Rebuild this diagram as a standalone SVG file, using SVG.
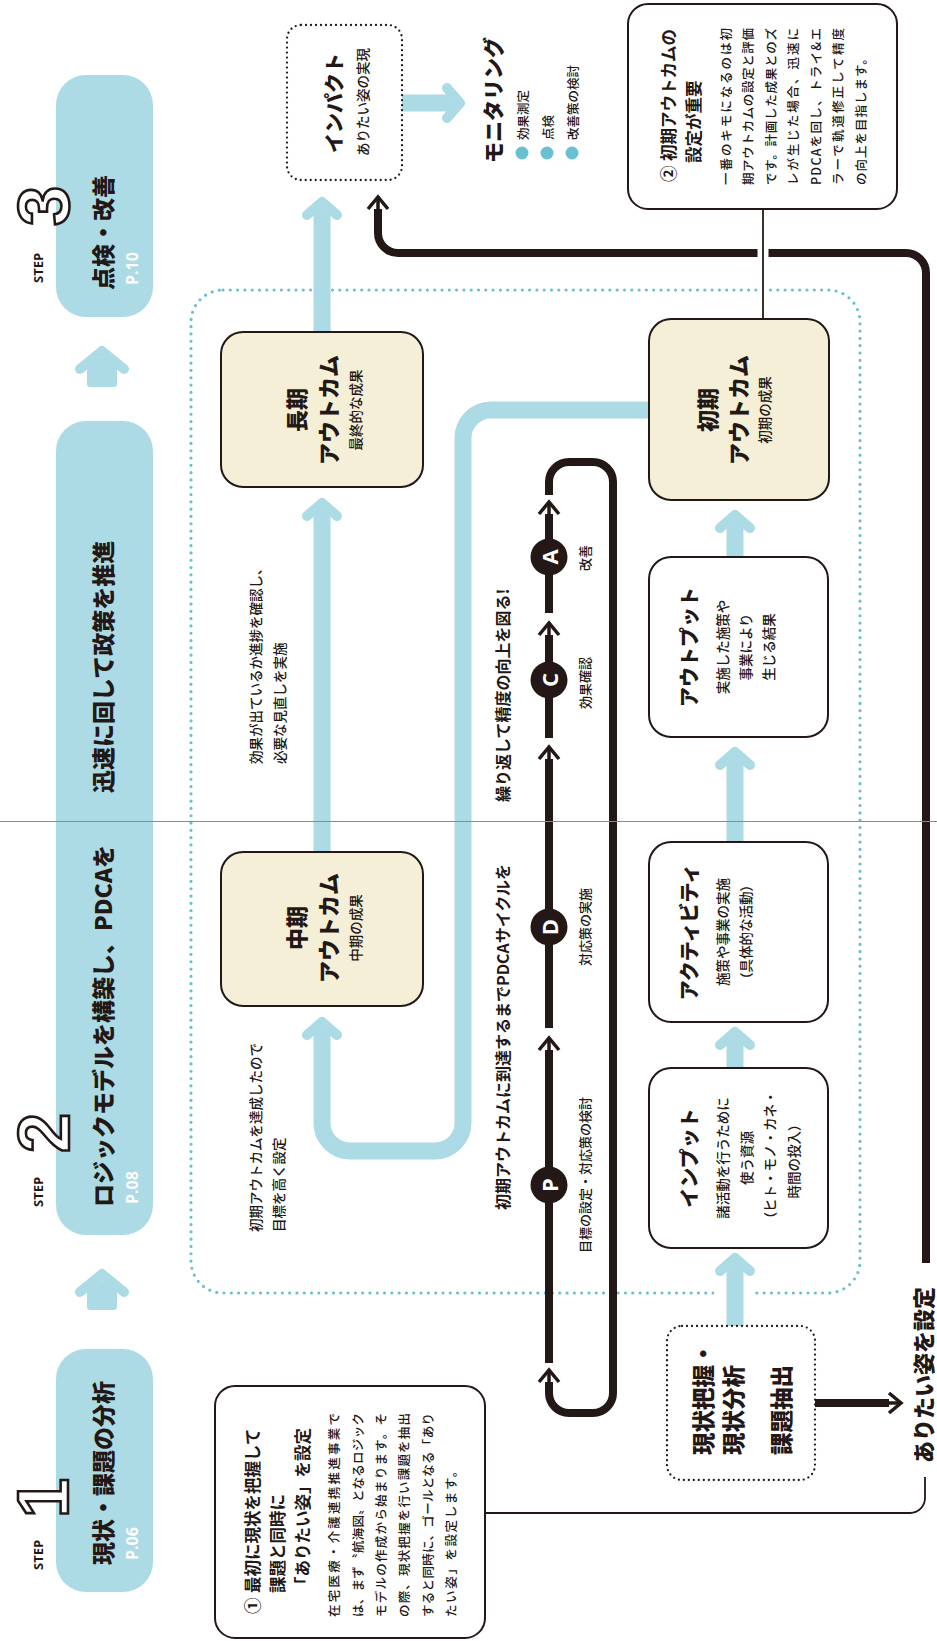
<svg xmlns="http://www.w3.org/2000/svg" width="937" height="1641" viewBox="0 0 937 1641">
<style>
.t{font-family:"Noto Sans CJK JP","Noto Sans",sans-serif;fill:#231815;dominant-baseline:central}
.b{font-weight:700}
.h{font-weight:900}
.r{font-weight:500}
.w{fill:#fff}
.m{text-anchor:middle}
.lat{font-family:"Open Sans","Liberation Sans",sans-serif;font-weight:700}
.dig{font-family:"Liberation Sans",sans-serif;font-weight:700;fill:#fff;stroke:#231815;stroke-width:2.6;text-anchor:middle}
.blue{fill:#acdbe5}
.bstem{stroke:#acdbe5;stroke-width:17;fill:none}
.bhead{stroke:#acdbe5;stroke-width:10;fill:none;stroke-linecap:round;stroke-linejoin:round}
.kline{stroke:#231815;stroke-width:8;fill:none}
.khead{stroke:#231815;stroke-width:3.5;fill:none}
.box{fill:#fff;stroke:#231815;stroke-width:2}
.beige{fill:#f5efd7;stroke:#231815;stroke-width:2}
.dotk{fill:#fff;stroke:#231815;stroke-width:2.3;stroke-dasharray:0 5;stroke-linecap:round}
.thin{stroke:#231815;stroke-width:1.8;fill:none}
</style>

<!-- dotted teal frame -->
<rect id="frame" x="191" y="290" width="669" height="1003" rx="32" fill="none" stroke="#69c0d0" stroke-width="3.2" stroke-dasharray="0 7.3" stroke-linecap="round"/>
<rect x="714" y="1286" width="38" height="14" fill="#fff"/>

<!-- steps -->
<g id="step3">
<rect class="blue" x="56" y="75" width="97" height="242" rx="30"/>
<text class="dig" font-size="72" transform="translate(69 206) rotate(-90)">3</text>
<text class="t lat" font-size="13" transform="translate(38 283) rotate(-90)">STEP</text>
<text class="t h" font-size="23" transform="translate(102 290) rotate(-90)">点検・改善</text>
<text class="t lat w" font-size="16" transform="translate(132 285) rotate(-90)">P.10</text>
</g>
<g id="step2">
<rect class="blue" x="56" y="421" width="97" height="814" rx="30"/>
<text class="dig" font-size="72" transform="translate(69 1133) rotate(-90)">2</text>
<text class="t lat" font-size="13" transform="translate(38 1207) rotate(-90)">STEP</text>
<text class="t h" font-size="23" transform="translate(102 1207) rotate(-90)">ロジックモデルを構築し、PDCAを</text>
<text class="t h" font-size="23" transform="translate(102 793) rotate(-90)">迅速に回して政策を推進</text>
<text class="t lat w" font-size="16" transform="translate(132 1204) rotate(-90)">P.08</text>
</g>
<g id="step1">
<rect class="blue" x="56" y="1349" width="97" height="243" rx="30"/>
<text class="dig" font-size="72" transform="translate(68 1498) rotate(-90)">1</text>
<text class="t lat" font-size="13" transform="translate(38 1570) rotate(-90)">STEP</text>
<text class="t h" font-size="23" transform="translate(102 1565) rotate(-90)">現状・課題の分析</text>
<text class="t lat w" font-size="16" transform="translate(132 1560) rotate(-90)">P.06</text>
</g>
<g id="step-arrows">
<rect class="blue" x="87" y="358" width="30" height="29" rx="3"/>
<polyline class="bhead" points="80,369 102,351 124,369"/>
<rect class="blue" x="87" y="1281" width="30" height="29" rx="3"/>
<polyline class="bhead" points="80,1292 102,1274 124,1292"/>
</g>

<!-- connectors -->
<g id="connectors">
<line class="bstem" x1="322" y1="332" x2="322" y2="209"/>
<polyline class="bhead" points="307,215 322,202 337,215"/>
<line class="bstem" x1="322" y1="852" x2="322" y2="510"/>
<polyline class="bhead" points="307,516 322,503 337,516"/>
<path class="bstem" d="M649 410 H491 A28 28 0 0 0 463 438 V1123 A28 28 0 0 1 435 1151 H350 A28 28 0 0 1 322 1123 V1029"/>
<polyline class="bhead" points="307,1035 322,1022 337,1035"/>
<line class="bstem" x1="735" y1="557" x2="735" y2="522"/>
<polyline class="bhead" points="720,528 735,515 750,528"/>
<line class="bstem" x1="735" y1="842" x2="735" y2="759"/>
<polyline class="bhead" points="720,765 735,752 750,765"/>
<line class="bstem" x1="735" y1="1068" x2="735" y2="1039"/>
<polyline class="bhead" points="720,1045 735,1032 750,1045"/>
<line class="bstem" x1="735" y1="1326" x2="735" y2="1265"/>
<polyline class="bhead" points="720,1271 735,1258 750,1271"/>
<line class="bstem" x1="402" y1="103" x2="453" y2="103"/>
<polyline class="bhead" points="447,88 460,103 447,118"/>

<path class="kline" d="M926 1263 V273 A20 20 0 0 0 906 253 H398 A20 20 0 0 1 378 233 V209"/>
<line class="khead" x1="378" y1="210" x2="378" y2="199"/>
<polyline class="khead" points="368,209 378,197 388,209"/>
<line class="kline" x1="815" y1="1403" x2="889" y2="1403"/>
<line class="khead" x1="888" y1="1403" x2="899" y2="1403"/>
<polyline class="khead" points="889,1393 901,1403 889,1413"/>
<path class="thin" d="M485 1513 H910 A15 15 0 0 0 925 1498 V1477"/>
<line x1="763" y1="245" x2="763" y2="298" stroke="#fff" stroke-width="11"/>
<line class="thin" x1="763" y1="209" x2="763" y2="319"/>

<path class="kline" d="M549 495 V482 A20 20 0 0 1 569 462 H593 A20 20 0 0 1 613 482 V1393 A20 20 0 0 1 593 1413 H569 A20 20 0 0 1 549 1393 V1382"/>
<line class="khead" x1="549" y1="1383" x2="549" y2="1372"/>
<polyline class="khead" points="539,1382 549,1370 559,1382"/>
<line class="kline" x1="549" y1="1363" x2="549" y2="1050"/>
<line class="khead" x1="549" y1="1051" x2="549" y2="1040"/>
<polyline class="khead" points="539,1050 549,1038 559,1050"/>
<line class="kline" x1="549" y1="1028" x2="549" y2="759"/>
<line class="khead" x1="549" y1="760" x2="549" y2="749"/>
<polyline class="khead" points="539,759 549,747 559,759"/>
<line class="kline" x1="549" y1="738" x2="549" y2="635"/>
<line class="khead" x1="549" y1="636" x2="549" y2="625"/>
<polyline class="khead" points="539,635 549,623 559,635"/>
<line class="kline" x1="549" y1="613" x2="549" y2="514"/>
<line class="khead" x1="549" y1="515" x2="549" y2="504"/>
<polyline class="khead" points="539,514 549,502 559,514"/>
</g>

<g id="pdca-circles">
<circle cx="549" cy="1185" r="18.5" fill="#231815"/>
<text class="t lat w m" font-size="22" transform="translate(549 1185) rotate(-90)">P</text>
<circle cx="549" cy="927" r="18.5" fill="#231815"/>
<text class="t lat w m" font-size="22" transform="translate(549 927) rotate(-90)">D</text>
<circle cx="549" cy="680" r="18.5" fill="#231815"/>
<text class="t lat w m" font-size="22" transform="translate(549 680) rotate(-90)">C</text>
<circle cx="549" cy="557" r="18.5" fill="#231815"/>
<text class="t lat w m" font-size="22" transform="translate(549 557) rotate(-90)">A</text>
<text class="t r m" font-size="13" transform="translate(584 558) rotate(-90)">改善</text>
<text class="t r m" font-size="13" transform="translate(584 683) rotate(-90)">効果確認</text>
<text class="t r m" font-size="13" transform="translate(584 927) rotate(-90)">対応策の実施</text>
<text class="t r m" font-size="13" transform="translate(584 1175) rotate(-90)">目標の設定・対応策の検討</text>
<text class="t b" font-size="16" transform="translate(502 1210) rotate(-90)">初期アウトカムに到達するまでPDCAサイクルを</text>
<text class="t b" font-size="16" transform="translate(502 802) rotate(-90)">繰り返して精度の向上を図る!</text>
</g>

<g id="side-notes">
<text class="t r" font-size="13.5" transform="translate(255 764) rotate(-90)">効果が出ているか進捗を確認し、</text>
<text class="t r" font-size="13.5" transform="translate(279 764) rotate(-90)">必要な見直しを実施</text>
<text class="t r" font-size="13.5" transform="translate(255 1232) rotate(-90)">初期アウトカムを達成したので</text>
<text class="t r" font-size="13.5" transform="translate(278 1232) rotate(-90)">目標を高く設定</text>
</g>

<g id="impact">
<rect class="dotk" x="287" y="25" width="115" height="155" rx="14"/>
<text class="t h m" font-size="20" transform="translate(333 103) rotate(-90)">インパクト</text>
<text class="t r m" font-size="13.5" transform="translate(362 102) rotate(-90)">ありたい姿の実現</text>
</g>

<g id="monitoring">
<text class="t h" font-size="21" transform="translate(492 163) rotate(-90)">モニタリング</text>
<circle cx="522" cy="153" r="6.5" fill="#69c0d0"/>
<circle cx="547" cy="153" r="6.5" fill="#69c0d0"/>
<circle cx="572" cy="153" r="6.5" fill="#69c0d0"/>
<text class="t r" font-size="12.5" transform="translate(522 140) rotate(-90)">効果測定</text>
<text class="t r" font-size="12.5" transform="translate(547 140) rotate(-90)">点検</text>
<text class="t r" font-size="12.5" transform="translate(572 140) rotate(-90)">改善策の検討</text>
</g>

<g id="long-outcome">
<rect class="beige" x="221" y="332" width="202" height="155" rx="22"/>
<text class="t h m" font-size="22" transform="translate(295 410) rotate(-90)">長期</text>
<text class="t h m" font-size="22" transform="translate(327 410) rotate(-90)">アウトカム</text>
<text class="t r m" font-size="13.5" transform="translate(355 410) rotate(-90)">最終的な成果</text>
</g>
<g id="mid-outcome">
<rect class="beige" x="221" y="852" width="202" height="154" rx="22"/>
<text class="t h m" font-size="22" transform="translate(295 928) rotate(-90)">中期</text>
<text class="t h m" font-size="22" transform="translate(327 928) rotate(-90)">アウトカム</text>
<text class="t r m" font-size="13.5" transform="translate(355 928) rotate(-90)">中期の成果</text>
</g>
<g id="initial-outcome">
<rect class="beige" x="649" y="319" width="180" height="181" rx="22"/>
<text class="t h m" font-size="22" transform="translate(706 410) rotate(-90)">初期</text>
<text class="t h m" font-size="22" transform="translate(737 410) rotate(-90)">アウトカム</text>
<text class="t r m" font-size="13.5" transform="translate(764 410) rotate(-90)">初期の成果</text>
</g>
<g id="output">
<rect class="box" x="649" y="557" width="179" height="180" rx="22"/>
<text class="t h m" font-size="20" transform="translate(688 647) rotate(-90)">アウトプット</text>
<text class="t r m" font-size="13.5" transform="translate(722 647) rotate(-90)">実施した施策や</text>
<text class="t r m" font-size="13.5" transform="translate(745 647) rotate(-90)">事業により</text>
<text class="t r m" font-size="13.5" transform="translate(768 647) rotate(-90)">生じる結果</text>
</g>
<g id="activity">
<rect class="box" x="649" y="842" width="179" height="180" rx="22"/>
<text class="t h m" font-size="20" transform="translate(688 932) rotate(-90)">アクティビティ</text>
<text class="t r m" font-size="13.5" transform="translate(722 932) rotate(-90)">施策や事業の実施</text>
<text class="t r m" font-size="13.5" transform="translate(745 932) rotate(-90)">（具体的な活動）</text>
</g>
<g id="input">
<rect class="box" x="649" y="1068" width="179" height="180" rx="22"/>
<text class="t h m" font-size="20" transform="translate(688 1158) rotate(-90)">インプット</text>
<text class="t r m" font-size="13.5" transform="translate(722 1158) rotate(-90)">諸活動を行うために</text>
<text class="t r m" font-size="13.5" transform="translate(745.5 1158) rotate(-90)">使う資源</text>
<text class="t r m" font-size="13.5" transform="translate(769 1158) rotate(-90)">（ヒト・モノ・カネ・</text>
<text class="t r m" font-size="13.5" transform="translate(792.5 1158) rotate(-90)">時間の投入）</text>
</g>
<g id="current">
<rect class="dotk" x="667" y="1326" width="148" height="154" rx="15"/>
<text class="t h" font-size="22.5" transform="translate(702 1455) rotate(-90)">現状把握・</text>
<text class="t h" font-size="22.5" transform="translate(732 1455) rotate(-90)">現状分析</text>
<text class="t h" font-size="22.5" transform="translate(780 1455) rotate(-90)">課題抽出</text>
</g>
<g id="goal">
<text class="t h" font-size="22" transform="translate(922 1463) rotate(-90)">ありたい姿を設定</text>
</g>

<g id="note1">
<rect class="box" x="215" y="1386" width="270" height="252" rx="20"/>
<text class="t b" font-size="16.5" transform="translate(252 1614) rotate(-90)">①</text>
<text class="t b" font-size="16.5" transform="translate(252 1593) rotate(-90)">最初に現状を把握して</text>
<text class="t b" font-size="16.5" transform="translate(277 1593) rotate(-90)">課題と同時に</text>
<text class="t b" font-size="16.5" transform="translate(302 1593) rotate(-90)">「ありたい姿」を設定</text>
<text class="t r" font-size="12.5" textLength="204" lengthAdjust="spacing" transform="translate(333 1617) rotate(-90)">在宅医療・介護連携推進事業で</text>
<text class="t r" font-size="12.5" textLength="204" lengthAdjust="spacing" transform="translate(357 1617) rotate(-90)">は、まず〝航海図〟となるロジック</text>
<text class="t r" font-size="12.5" textLength="204" lengthAdjust="spacing" transform="translate(380 1617) rotate(-90)">モデルの作成から始まります。そ</text>
<text class="t r" font-size="12.5" textLength="204" lengthAdjust="spacing" transform="translate(403 1617) rotate(-90)">の際、現状把握を行い課題を抽出</text>
<text class="t r" font-size="12.5" textLength="204" lengthAdjust="spacing" transform="translate(427 1617) rotate(-90)">すると同時に、ゴールとなる「あり</text>
<text class="t r" font-size="12.5" letter-spacing="1.6" transform="translate(450 1617) rotate(-90)">たい姿」を設定します。</text>
</g>

<g id="note2">
<rect class="box" x="628" y="4" width="269" height="205" rx="20"/>
<text class="t b" font-size="16.5" transform="translate(668 182) rotate(-90)">②</text>
<text class="t b" font-size="16.5" transform="translate(668 161) rotate(-90)">初期アウトカムの</text>
<text class="t b" font-size="16.5" transform="translate(693 163) rotate(-90)">設定が重要</text>
<text class="t r" font-size="12.5" textLength="157" lengthAdjust="spacing" transform="translate(725 185) rotate(-90)">一番のキモになるのは初</text>
<text class="t r" font-size="12.5" textLength="157" lengthAdjust="spacing" transform="translate(747.5 185) rotate(-90)">期アウトカムの設定と評価</text>
<text class="t r" font-size="12.5" textLength="157" lengthAdjust="spacing" transform="translate(770 185) rotate(-90)">です。計画した成果とのズ</text>
<text class="t r" font-size="12.5" textLength="157" lengthAdjust="spacing" transform="translate(792.5 185) rotate(-90)">レが生じた場合、迅速に</text>
<text class="t r" font-size="12.5" textLength="157" lengthAdjust="spacing" transform="translate(815 185) rotate(-90)">PDCAを回し、トライ&amp;エ</text>
<text class="t r" font-size="12.5" textLength="157" lengthAdjust="spacing" transform="translate(837.5 185) rotate(-90)">ラーで軌道修正して精度</text>
<text class="t r" font-size="12.5" letter-spacing="1" transform="translate(860 185) rotate(-90)">の向上を目指します。</text>
</g>

<line id="fold" x1="0" y1="821.5" x2="937" y2="821.5" stroke="#8a8a8a" stroke-width="1"/>
</svg>
